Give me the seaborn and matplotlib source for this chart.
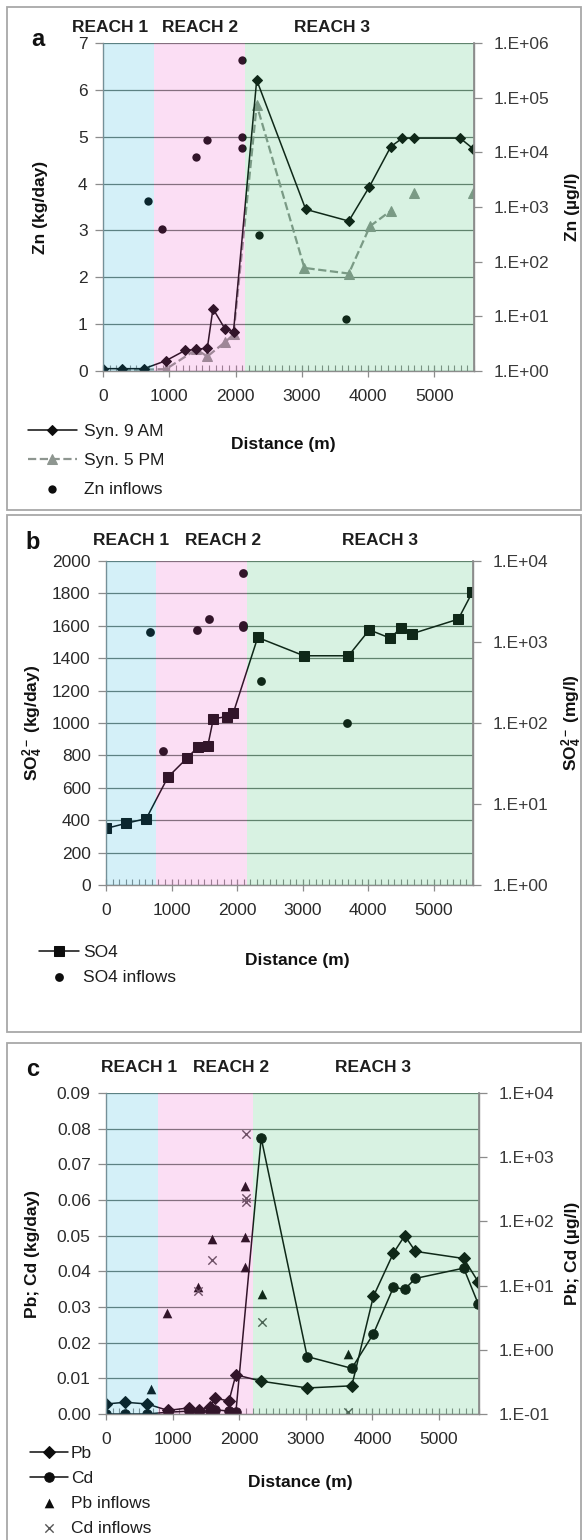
import numpy as np
import pandas as pd
import matplotlib
matplotlib.use("Agg")
import matplotlib.pyplot as plt
import seaborn as sns
from matplotlib.ticker import MultipleLocator, FuncFormatter, FormatStrFormatter, NullLocator, FixedLocator
from matplotlib.patches import Rectangle

nan = np.nan

# ---------------- data ----------------
reach_labels = ["REACH 1", "REACH 2", "REACH 3"]
reach_edges_ab = [0, 770, 2150, 5600]
reach_edges_c = [0, 780, 2200, 5600]
x_ticks = [0, 1000, 2000, 3000, 4000, 5000]

# panel a : Zn
dist_9am = [0, 290, 620, 950, 1240, 1410, 1575, 1660, 1845, 1970, 2320, 3060, 3710, 4020, 4345, 4520, 4690, 5390, 5590]
zn_9am = [0.05, 0.05, 0.05, 0.22, 0.44, 0.46, 0.49, 1.33, 0.89, 0.84, 6.21, 3.45, 3.20, 3.93, 4.79, 4.97, 4.97, 4.97, 4.74]
dist_5pm = [290, 950, 1410, 1575, 1845, 1970, 2320, 3040, 3710, 4030, 4345, 4520, 4690, 5390, 5590]
zn_5pm = [0.02, 0.04, 0.46, 0.31, 0.62, 0.78, 5.68, 2.20, 2.08, 3.09, 3.42, nan, 3.80, nan, 3.80]
zn_inflow_x = [675, 895, 1400, 1575, 2100, 2100, 2100, 2355, 3670]
zn_inflow_y = [3.63, 3.02, 4.57, 4.93, 6.64, 4.99, 4.75, 2.90, 1.11]

# panel b : SO4
dist_so4 = [0, 300, 615, 945, 1236, 1400, 1552, 1638, 1850, 1943, 2315, 3020, 3700, 4018, 4335, 4500, 4670, 5375, 5590]
so4 = [349, 380, 410, 666, 783, 851, 857, 1026, 1040, 1063, 1528, 1415, 1415, 1575, 1524, 1586, 1551, 1641, 1807]
so4_inflow_x = [676, 875, 1384, 1572, 2096, 2096, 2096, 2361, 3674]
so4_inflow_y = [1559, 827, 1575, 1641, 1928, 1605, 1590, 1257, 1001]

# panel c : Pb, Cd
dist_c = [0, 290, 620, 930, 1240, 1400, 1560, 1640, 1845, 1950, 2330, 3020, 3690, 4015, 4315, 4485, 4645, 5370, 5590]
pb = [0.0028, 0.0033, 0.0028, 0.0010, 0.0017, 0.0012, 0.0020, 0.0045, 0.0036, 0.0110, 0.0092, 0.0073, 0.0079,
      0.0330, 0.0451, 0.0500, 0.0456, 0.0436, 0.0370]
cd = [0.0000, 0.0000, 0.0000, 0.0005, 0.0008, 0.0002, 0.0008, 0.0012, 0.0008, 0.0005, 0.0774, 0.0161, 0.0128,
      0.0225, 0.0355, 0.0350, 0.0380, 0.0409, 0.0308]
pb_inflow_x = [683, 915, 1375, 1595, 2094, 2094, 2094, 2349, 3639]
pb_inflow_y = [0.0070, 0.0283, 0.0356, 0.0490, 0.0640, 0.0496, 0.0411, 0.0336, 0.0169]
cd_inflow_x = [1375, 1595, 2099, 2099, 2099, 2349, 3628]
cd_inflow_y = [0.0345, 0.0433, 0.0784, 0.0605, 0.0595, 0.0259, 0.0007]

# ---------------- style ----------------
sns.set_theme(style="white")
plt.rcParams["font.family"] = ["Liberation Sans", "DejaVu Sans"]
plt.rcParams["mathtext.fontset"] = "custom"
plt.rcParams["mathtext.rm"] = "Liberation Sans"
plt.rcParams["mathtext.bf"] = "Liberation Sans:bold"
plt.rcParams["mathtext.it"] = "Liberation Sans:italic"

W, H = 582, 1540
fig = plt.figure(figsize=(W / 100, H / 100), dpi=100)

REACH_COLORS = ["#02a7d6", "#ed3dbe", "#1ab354"]
GRID = "#6f7a73"
SPINE = "#8c8c8c"
TXT = "#2a2a2a"
FS = 12.5


def fx(x):
    return x / W


def fy(y):
    return 1 - y / H


def add_axes_px(l, t, r, b):
    return fig.add_axes([l / W, 1 - b / H, (r - l) / W, (b - t) / H])


def text_px(x, y, s, **kw):
    fig.text(fx(x), fy(y), s, **kw)


def line_runs(ax, x, y, label=None, **kw):
    x = np.asarray(x, float)
    y = np.asarray(y, float)
    idx = np.flatnonzero(~np.isnan(y))
    runs = np.split(idx, np.where(np.diff(idx) > 1)[0] + 1)
    for i, r in enumerate(runs):
        df = pd.DataFrame({"x": x[r], "y": y[r]})
        sns.lineplot(data=df, x="x", y="y", ax=ax, estimator=None, sort=False, legend=False,
                     label=label if i == 0 else None, **kw)


def log_fmt(v, pos):
    e = int(round(np.log10(v)))
    return f"1.E{e:+03d}"


def setup(ax, edges, ylim, ystep, yfmt, ylabel, ylab_x, rlim, rlabel, rlab_x, rect):
    ax.set_xlim(0, 5600)
    ax.set_ylim(*ylim)
    for i in range(3):
        ax.axvspan(edges[i], edges[i + 1], color=REACH_COLORS[i], alpha=0.17, lw=0, zorder=3)
    ax.set_xticks(x_ticks)
    ax.xaxis.set_minor_locator(MultipleLocator(100))
    ax.yaxis.set_major_locator(MultipleLocator(ystep))
    ax.yaxis.set_major_formatter(yfmt)
    ax.grid(axis="y", color=GRID, lw=0.9, zorder=0.5)
    ax.grid(axis="x", visible=False)
    ax.set_axisbelow(True)
    for s in ["left", "bottom", "right"]:
        ax.spines[s].set_color(SPINE)
        ax.spines[s].set_linewidth(1.0)
    ax.spines["top"].set_visible(False)
    ax.tick_params(axis="x", which="major", direction="inout", length=8, width=0.9, color=SPINE,
                   labelsize=FS, labelcolor=TXT, pad=9, bottom=True)
    ax.tick_params(axis="x", which="minor", direction="in", length=4, width=0.8, color=SPINE, bottom=True)
    ax.tick_params(axis="y", which="major", direction="out", length=6, width=0.9, color=SPINE,
                   labelsize=FS, labelcolor=TXT, pad=5, left=True)
    ax.set_xlabel("")
    ax.set_ylabel("")
    ymid = (rect[1] + rect[3]) / 2
    text_px(ylab_x, ymid, ylabel, rotation=90, ha="center", va="center", fontsize=FS,
            fontweight="bold", color="#111111")

    ax2 = ax.twinx()
    ax2.set_yscale("log")
    ax2.set_ylim(*rlim)
    decs = np.arange(int(round(np.log10(rlim[0]))), int(round(np.log10(rlim[1]))) + 1)
    ax2.yaxis.set_major_locator(FixedLocator(10.0 ** decs))
    ax2.yaxis.set_minor_locator(NullLocator())
    ax2.yaxis.set_major_formatter(FuncFormatter(log_fmt))
    ax2.tick_params(axis="y", which="major", direction="out", length=6, width=0.9, color=SPINE,
                    labelsize=FS, labelcolor="#3a3a3a", pad=8, right=True)
    for s in ["left", "bottom", "top"]:
        ax2.spines[s].set_visible(False)
    ax2.spines["right"].set_color(SPINE)
    ax2.grid(False)
    ax2.set_ylabel("")
    text_px(rlab_x, ymid, rlabel, rotation=90, ha="center", va="center", fontsize=FS,
            fontweight="bold", color="#111111")
    return ax2


def panel_frame(top, bottom):
    fig.add_artist(Rectangle((fx(7), fy(bottom)), fx(581) - fx(7), fy(top) - fy(bottom),
                             transform=fig.transFigure, fill=False, ec="#a8a8a8", lw=1.3))


def reach_titles(xs, y):
    for x, s in zip(xs, reach_labels):
        text_px(x, y, s, ha="center", va="center", fontsize=FS, fontweight="bold", color="#1e1e1e")


def legend_px(ax, x, y, labelspacing, handlelength, handletextpad):
    h, l = ax.get_legend_handles_labels()
    ax.legend(h, l, loc="upper left", bbox_to_anchor=(fx(x), fy(y)), bbox_transform=fig.transFigure,
              frameon=False, fontsize=FS, borderpad=0, borderaxespad=0, labelspacing=labelspacing,
              handlelength=handlelength, handletextpad=handletextpad, labelcolor="#1e1e1e", numpoints=1,
              scatterpoints=1)


# ---------------- panel a ----------------
panel_frame(7, 510)
rect_a = (103, 43, 474, 371)
axa = add_axes_px(*rect_a)
line_runs(axa, dist_9am, zn_9am, label="Syn. 9 AM", color="#0d0d0d", lw=1.1, marker="D", markersize=5,
          markeredgecolor="#0d0d0d", zorder=2)
line_runs(axa, dist_5pm, zn_5pm, label="Syn. 5 PM", color="#8e9690", lw=1.6, linestyle="--", marker="^",
          markersize=7, markeredgecolor="#8e9690", zorder=1.9)
sns.scatterplot(x=zn_inflow_x, y=zn_inflow_y, ax=axa, marker="o", s=36, color="#0d0d0d", linewidth=0,
                label="Zn inflows", legend=False, zorder=2)
setup(axa, reach_edges_ab, (0, 7), 1, FormatStrFormatter("%d"), "Zn (kg/day)", 40,
      (1, 1e6), "Zn (µg/l)", 572, rect_a)
legend_px(axa, 28, 424, 0.78, 2.8, 0.4)
text_px(38, 40, "a", ha="center", va="center", fontsize=17, fontweight="bold", color="#111111")
reach_titles([110, 200, 332], 27)
text_px(283, 445, "Distance (m)", ha="center", va="center", fontsize=FS, fontweight="bold", color="#111111")

# ---------------- panel b ----------------
panel_frame(515, 1032)
rect_b = (106, 561, 473, 885)
axb = add_axes_px(*rect_b)
line_runs(axb, dist_so4, so4, label="SO4", color="#0d0d0d", lw=1.1, marker="s", markersize=7,
          markeredgecolor="#0d0d0d", zorder=2)
sns.scatterplot(x=so4_inflow_x, y=so4_inflow_y, ax=axb, marker="o", s=40, color="#0d0d0d", linewidth=0,
                label="SO4 inflows", legend=False, zorder=2)
setup(axb, reach_edges_ab, (0, 2000), 200, FormatStrFormatter("%d"), r"$\mathbf{SO_4^{2-}}$ (kg/day)",
      33, (1, 1e4), r"$\mathbf{SO_4^{2-}}$ (mg/l)", 572, rect_b)
legend_px(axb, 39, 945, 0.55, 2.3, 0.25)
text_px(33, 542, "b", ha="center", va="center", fontsize=17, fontweight="bold", color="#111111")
reach_titles([131, 223, 380], 541)
text_px(297, 960, "Distance (m)", ha="center", va="center", fontsize=FS, fontweight="bold", color="#111111")

# ---------------- panel c ----------------
panel_frame(1043, 1560)
rect_c = (106, 1093, 479, 1414)
axc = add_axes_px(*rect_c)
line_runs(axc, dist_c, pb, label="Pb", color="#0d0d0d", lw=1.1, marker="D", markersize=6,
          markeredgecolor="#0d0d0d", zorder=2)
line_runs(axc, dist_c, cd, label="Cd", color="#0d0d0d", lw=1.1, marker="o", markersize=6.8,
          markeredgecolor="#0d0d0d", zorder=2)
sns.scatterplot(x=pb_inflow_x, y=pb_inflow_y, ax=axc, marker="^", s=48, color="#0d0d0d", linewidth=0,
                label="Pb inflows", legend=False, zorder=2.1)
sns.scatterplot(x=cd_inflow_x, y=cd_inflow_y, ax=axc, marker="x", s=36, color="#555555", linewidth=1.0,
                label="Cd inflows", legend=False, zorder=2.1)
setup(axc, reach_edges_c, (0, 0.09), 0.01, FormatStrFormatter("%.2f"), "Pb; Cd (kg/day)", 33,
      (0.1, 1e4), "Pb; Cd (µg/l)", 572, rect_c)
legend_px(axc, 30, 1446, 0.56, 2.2, 0.15)
text_px(33, 1070, "c", ha="center", va="center", fontsize=17, fontweight="bold", color="#111111")
reach_titles([139, 231, 373], 1067)
text_px(300, 1483, "Distance (m)", ha="center", va="center", fontsize=FS, fontweight="bold", color="#111111")

fig.savefig("out.png", dpi=100, facecolor="white")
